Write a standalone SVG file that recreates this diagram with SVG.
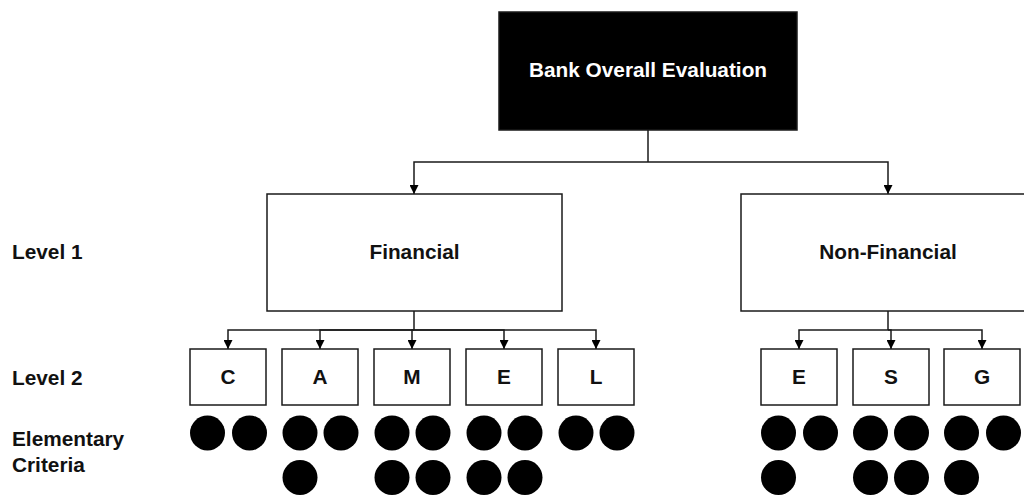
<svg xmlns="http://www.w3.org/2000/svg" width="1024" height="498" viewBox="0 0 1024 498">
<style>
.box{fill:#fff;stroke:#1a1a1a;stroke-width:1.5}
.t{font-family:"Liberation Sans",Arial,Helvetica,sans-serif;font-weight:bold;font-size:20.8px;fill:#111}
.c{text-anchor:middle}
.w{fill:#fff}
.edge{fill:none;stroke:#1a1a1a;stroke-width:1.5}
.dot{fill:#000}
</style>
<defs>
<marker id="arr" viewBox="0 0 10 10" refX="10" refY="5" markerWidth="9" markerHeight="9" markerUnits="userSpaceOnUse" orient="auto">
<path d="M0,0 L10,5 L0,10 z" fill="#000"/>
</marker>
</defs>
<rect width="1024" height="498" fill="#fff"/>

<g id="labels">
<text class="t" x="12" y="259">Level 1</text>
<text class="t" x="12" y="385">Level 2</text>
<text class="t" x="12" y="446">Elementary</text>
<text class="t" x="12" y="472">Criteria</text>
</g>

<g id="connectors">
<path class="edge" d="M648,130 V162"/>
<path class="edge" d="M648,162 H414 V194" marker-end="url(#arr)"/>
<path class="edge" d="M648,162 H888 V194" marker-end="url(#arr)"/>
<path class="edge" d="M414,311 V330"/>
<path class="edge" d="M414,330 H228 V349" marker-end="url(#arr)"/>
<path class="edge" d="M414,330 H320 V349" marker-end="url(#arr)"/>
<path class="edge" d="M414,330 H412 V349" marker-end="url(#arr)"/>
<path class="edge" d="M414,330 H504 V349" marker-end="url(#arr)"/>
<path class="edge" d="M414,330 H596 V349" marker-end="url(#arr)"/>
<path class="edge" d="M888,311 V330"/>
<path class="edge" d="M888,330 H799 V349" marker-end="url(#arr)"/>
<path class="edge" d="M888,330 H891 V349" marker-end="url(#arr)"/>
<path class="edge" d="M888,330 H982 V349" marker-end="url(#arr)"/>
</g>

<g id="bank">
<rect x="499" y="12" width="298" height="118" fill="#000" stroke="#1a1a1a" stroke-width="1.5"/>
<text class="t c w" x="648" y="77">Bank Overall Evaluation</text>
</g>

<g id="financial">
<rect class="box" x="267" y="194" width="295" height="117"/>
<text class="t c" x="414.5" y="258.5">Financial</text>
</g>

<g id="nonfinancial">
<rect class="box" x="741" y="194" width="295" height="117"/>
<text class="t c" x="888" y="258.5">Non-Financial</text>
</g>

<g id="C">
<rect class="box" x="190" y="349" width="76" height="56"/>
<text class="t c" x="228" y="384">C</text>
</g>
<g id="A">
<rect class="box" x="282" y="349" width="76" height="56"/>
<text class="t c" x="320" y="384">A</text>
</g>
<g id="M">
<rect class="box" x="374" y="349" width="76" height="56"/>
<text class="t c" x="412" y="384">M</text>
</g>
<g id="E1">
<rect class="box" x="466" y="349" width="76" height="56"/>
<text class="t c" x="504" y="384">E</text>
</g>
<g id="L">
<rect class="box" x="558" y="349" width="76" height="56"/>
<text class="t c" x="596" y="384">L</text>
</g>
<g id="E2">
<rect class="box" x="761" y="349" width="76" height="56"/>
<text class="t c" x="799" y="384">E</text>
</g>
<g id="S">
<rect class="box" x="853" y="349" width="76" height="56"/>
<text class="t c" x="891" y="384">S</text>
</g>
<g id="G">
<rect class="box" x="944" y="349" width="76" height="56"/>
<text class="t c" x="982" y="384">G</text>
</g>

<g id="criteria">
<circle class="dot" cx="207.5" cy="433" r="17.5"/>
<circle class="dot" cx="249.5" cy="433" r="17.5"/>
<circle class="dot" cx="300" cy="433" r="17.5"/>
<circle class="dot" cx="341" cy="433" r="17.5"/>
<circle class="dot" cx="300" cy="477.5" r="17.5"/>
<circle class="dot" cx="392" cy="433" r="17.5"/>
<circle class="dot" cx="433" cy="433" r="17.5"/>
<circle class="dot" cx="392" cy="477.5" r="17.5"/>
<circle class="dot" cx="433" cy="477.5" r="17.5"/>
<circle class="dot" cx="484" cy="433" r="17.5"/>
<circle class="dot" cx="525" cy="433" r="17.5"/>
<circle class="dot" cx="484" cy="477.5" r="17.5"/>
<circle class="dot" cx="525" cy="477.5" r="17.5"/>
<circle class="dot" cx="576" cy="433" r="17.5"/>
<circle class="dot" cx="617" cy="433" r="17.5"/>
<circle class="dot" cx="778.5" cy="433" r="17.5"/>
<circle class="dot" cx="820.5" cy="433" r="17.5"/>
<circle class="dot" cx="778.5" cy="477.5" r="17.5"/>
<circle class="dot" cx="870.5" cy="433" r="17.5"/>
<circle class="dot" cx="911.5" cy="433" r="17.5"/>
<circle class="dot" cx="870.5" cy="477.5" r="17.5"/>
<circle class="dot" cx="911.5" cy="477.5" r="17.5"/>
<circle class="dot" cx="961.5" cy="433" r="17.5"/>
<circle class="dot" cx="1003.5" cy="433" r="17.5"/>
<circle class="dot" cx="961.5" cy="477.5" r="17.5"/>
</g>
</svg>
